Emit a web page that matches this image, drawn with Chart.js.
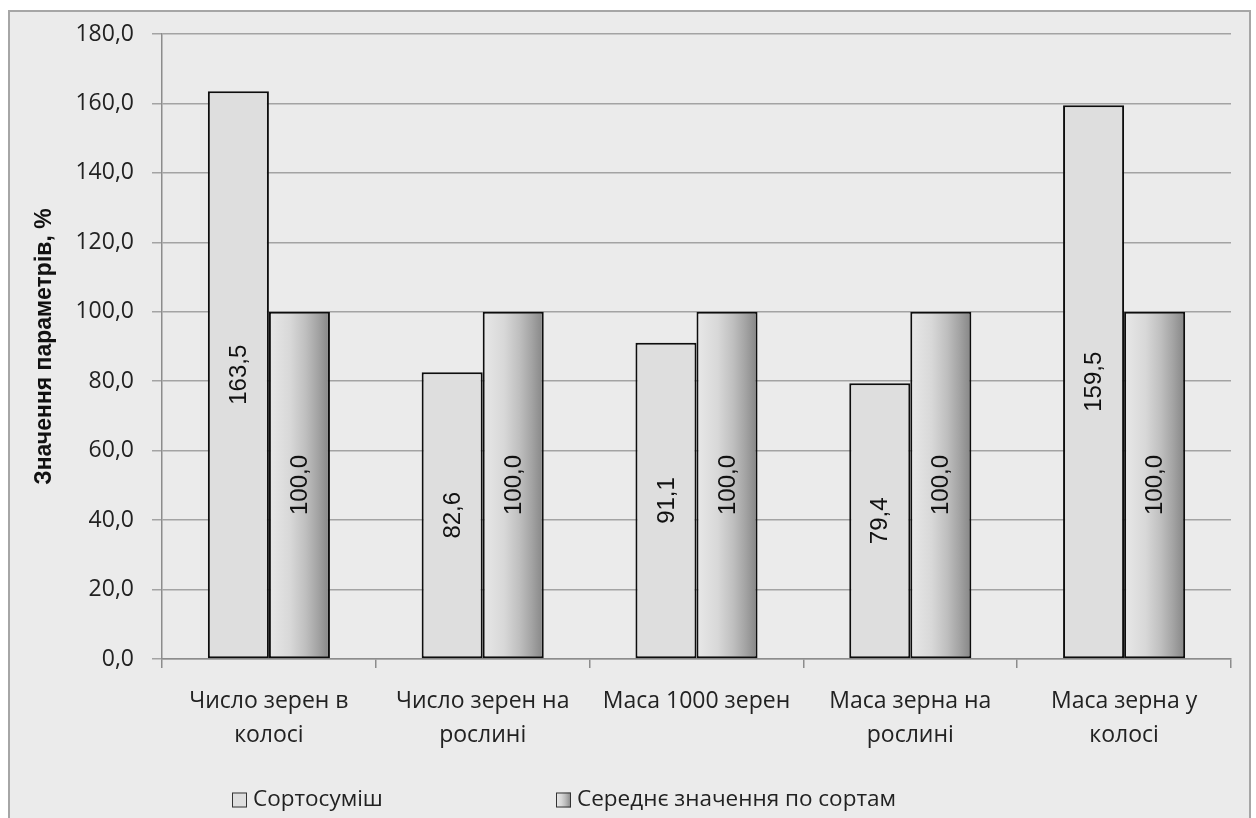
<!DOCTYPE html>
<html lang="uk">
<head>
<meta charset="utf-8">
<title>Значення параметрів, %</title>
<script src="https://cdn.jsdelivr.net/npm/chart.js@4.4.1/dist/chart.umd.min.js"></script>
<style>
  html, body { margin: 0; padding: 0; background: #ffffff; }
  canvas { display: block; }
</style>
</head>
<body>
<canvas id="chart" width="1256" height="818"></canvas>
<script>
// ---- data ----
const categories = [
  ["Число зерен в", "колосі"],
  ["Число зерен на", "рослині"],
  ["Маса 1000 зерен"],
  ["Маса зерна на", "рослині"],
  ["Маса зерна у", "колосі"]
];
const seriesNames = ["Сортосуміш", "Середнє значення по сортам"];
const mixValues = [163.5, 82.6, 91.1, 79.4, 159.5];
const varietyMeanValues = [100.0, 100.0, 100.0, 100.0, 100.0];
const yTickValues = [0, 20, 40, 60, 80, 100, 120, 140, 160, 180];
const yAxisTitle = "Значення параметрів, %";

// ---- styling ----
const TICK_FONT = { family: "'Open Sans', sans-serif", size: 23 };
const CAT_FONT = { family: "'Open Sans', sans-serif", size: 23, lineHeight: 1.48 };
const LABEL_FONT = "24px 'Liberation Sans', Arial, sans-serif";
const LEGEND_FONT = "22.5px 'Open Sans', sans-serif";
const CAT_PCT = 0.571;
const BAR_PCT = 1.0;
const MIX_FILL = '#dedede';

const fmt = v => v.toFixed(1).replace('.', ',');

function shadedFill(ctx, left, right) {
  const g = ctx.createLinearGradient(left, 0, right, 0);
  g.addColorStop(0.00, '#e8e8e8');
  g.addColorStop(0.35, '#d8d8d8');
  g.addColorStop(0.60, '#bfbfbf');
  g.addColorStop(0.80, '#a4a4a4');
  g.addColorStop(1.00, '#858585');
  return g;
}

// horizontal shading across each bar of the second series
function meanBarFill(context) {
  const chart = context.chart;
  const xs = chart.scales && chart.scales.x;
  if (!xs || typeof context.dataIndex !== 'number') return '#bdbdbd';
  const center = xs.getPixelForValue(context.dataIndex);
  const barW = (xs.width / categories.length) * CAT_PCT * BAR_PCT / 2;
  if (!isFinite(center) || !isFinite(barW) || barW <= 0) return '#bdbdbd';
  return shadedFill(chart.ctx, center, center + barW);
}

// grey panel behind the whole chart
const panelPlugin = {
  id: 'panel',
  beforeDraw(chart) {
    const c = chart.ctx;
    c.save();
    c.fillStyle = '#ffffff';
    c.fillRect(0, 0, chart.width, chart.height);
    c.fillStyle = '#ebebeb';
    c.fillRect(9, 11, 1241, 820);
    c.strokeStyle = '#a6a6a6';
    c.lineWidth = 2;
    c.strokeRect(9, 11, 1241, 820);
    c.restore();
  }
};

// value written vertically in the middle of every bar
const valueLabelPlugin = {
  id: 'valueLabels',
  afterDatasetsDraw(chart) {
    const c = chart.ctx;
    c.save();
    c.font = LABEL_FONT;
    c.fillStyle = '#111111';
    c.textAlign = 'center';
    c.textBaseline = 'middle';
    chart.data.datasets.forEach((ds, di) => {
      chart.getDatasetMeta(di).data.forEach((el, i) => {
        const cy = (el.y + el.base) / 2;
        c.save();
        c.translate(el.x + 1, cy);
        c.rotate(-Math.PI / 2);
        c.fillText(fmt(ds.data[i]), 0, 0);
        c.restore();
      });
    });
    c.restore();
  }
};

// legend row under the category labels
const legendRowPlugin = {
  id: 'legendRow',
  afterDraw(chart) {
    const c = chart.ctx;
    const xs = [232, 556];
    const cy = 800;
    const box = 15;
    c.save();
    c.font = LEGEND_FONT;
    c.textBaseline = 'middle';
    c.textAlign = 'left';
    chart.data.datasets.forEach((ds, i) => {
      const x = xs[i];
      c.fillStyle = i === 0 ? MIX_FILL : shadedFill(c, x, x + box);
      c.fillRect(x, cy - box / 2, box, box);
      c.strokeStyle = '#333333';
      c.lineWidth = 1;
      c.strokeRect(x + 0.5, cy - box / 2 + 0.5, box - 1, box - 1);
      c.fillStyle = '#222222';
      c.fillText(ds.label, x + box + 6, cy);
    });
    c.restore();
  }
};

new Chart(document.getElementById('chart'), {
  type: 'bar',
  data: {
    labels: categories,
    datasets: [
      {
        label: seriesNames[0],
        data: mixValues,
        backgroundColor: MIX_FILL,
        borderColor: '#0d0d0d',
        borderWidth: 2,
        borderSkipped: false
      },
      {
        label: seriesNames[1],
        data: varietyMeanValues,
        backgroundColor: meanBarFill,
        borderColor: '#0d0d0d',
        borderWidth: 2,
        borderSkipped: false
      }
    ]
  },
  options: {
    responsive: false,
    devicePixelRatio: 1,
    animation: false,
    events: [],
    categoryPercentage: CAT_PCT,
    barPercentage: BAR_PCT,
    layout: { padding: { left: 0, right: 25, top: 34, bottom: 59 } },
    plugins: {
      legend: { display: false },
      tooltip: { enabled: false }
    },
    scales: {
      x: {
        grid: {
          offset: true,
          drawOnChartArea: false,
          color: '#8c8c8c',
          lineWidth: 1.5,
          tickLength: 9
        },
        border: { color: '#8c8c8c', width: 1.5 },
        ticks: {
          font: CAT_FONT,
          color: '#222222',
          padding: 16,
          maxRotation: 0,
          autoSkip: false
        },
        afterFit(scale) { scale.height = 100; }
      },
      y: {
        min: 0,
        max: 180,
        afterBuildTicks(scale) { scale.ticks = yTickValues.map(v => ({ value: v })); },
        grid: {
          color: '#a3a3a3',
          lineWidth: 1.5,
          tickLength: 10
        },
        border: { color: '#8c8c8c', width: 1.5 },
        ticks: {
          font: TICK_FONT,
          color: '#222222',
          padding: 18,
          callback: v => fmt(v)
        },
        title: {
          display: true,
          text: yAxisTitle,
          color: '#111111',
          font: { family: "'Liberation Sans', Arial, sans-serif", size: 23, weight: 'bold', lineHeight: 1.2 },
          padding: { top: 31, bottom: 0 }
        },
        afterFit(scale) { scale.width = 162; }
      }
    }
  },
  plugins: [panelPlugin, valueLabelPlugin, legendRowPlugin]
});
</script>
</body>
</html>
